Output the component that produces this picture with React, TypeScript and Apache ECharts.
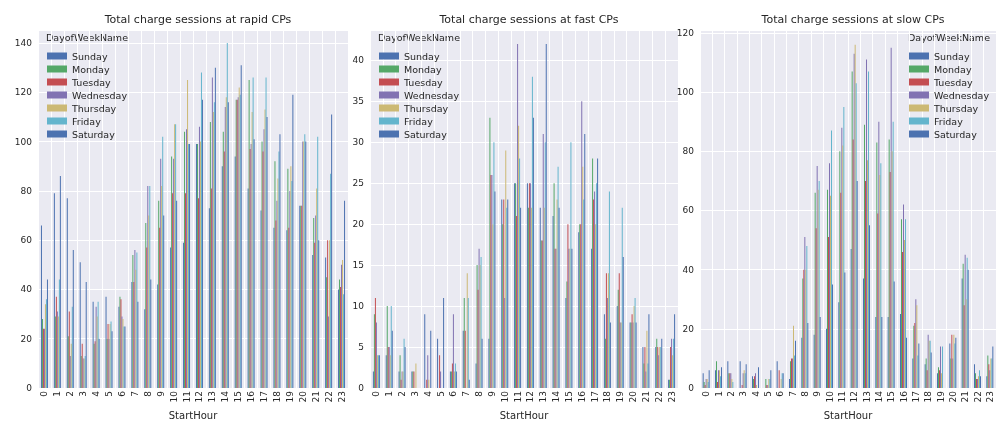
import React, { useEffect, useRef } from "react";
import * as echarts from "echarts";

const hours = Array.from({ length: 24 }, (_, i) => String(i));
const days = ["Sunday", "Monday", "Tuesday", "Wednesday", "Thursday", "Friday", "Saturday"];
const colors = ["#4C72B0", "#55A868", "#C44E52", "#8172B2", "#CCB974", "#64B5CD", "#4C72B0"];

// rows = hours 0..23, columns = Sunday..Saturday
const rapid = [
  [66, 28, 24, 24, 34, 36, 44], [79, 29, 37, 31, 29, 44, 86], [77, 21, 31, 13, 18, 33, 56],
  [51, 13, 18, 12, 12, 13, 43], [35, 18, 19, 33, 29, 35, 20], [37, 20, 26, 20, 26, 27, 23],
  [33, 37, 36, 29, 28, 25, 25], [43, 54, 43, 56, 48, 55, 35], [32, 67, 57, 82, 70, 82, 44],
  [42, 76, 65, 93, 82, 102, 70], [57, 94, 79, 93, 107, 107, 76], [59, 104, 79, 105, 125, 99, 99],
  [99, 99, 77, 106, 100, 128, 117], [73, 108, 81, 126, 112, 116, 130], [90, 104, 96, 114, 118, 140, 116],
  [94, 117, 117, 118, 122, 119, 131], [81, 125, 97, 99, 112, 126, 101], [72, 100, 96, 105, 113, 126, 110],
  [65, 92, 68, 76, 85, 96, 103], [64, 89, 65, 80, 90, 84, 119], [74, 74, 74, 100, 100, 103, 100],
  [54, 69, 59, 70, 81, 102, 60], [53, 45, 60, 29, 60, 87, 111], [40, 44, 41, 50, 52, 38, 76],
];
const fast = [
  [2, 9, 11, 8, 4, 4, 4], [4, 10, 5, 5, 4, 10, 7], [2, 4, 1, 2, 2, 6, 5],
  [2, 2, 2, 0, 3, 0, 0], [9, 0, 1, 4, 1, 0, 7], [6, 0, 4, 2, 0, 0, 11],
  [2, 2, 3, 9, 2, 3, 2], [7, 11, 7, 0, 14, 11, 1], [3, 15, 12, 17, 15, 16, 6],
  [6, 33, 26, 26, 20, 30, 24], [23, 20, 23, 11, 29, 22, 23], [25, 25, 21, 42, 32, 28, 22],
  [25, 22, 25, 25, 22, 38, 33], [22, 18, 18, 31, 22, 30, 42], [21, 25, 17, 17, 23, 27, 22],
  [11, 13, 20, 17, 17, 30, 17], [19, 20, 20, 35, 27, 23, 31], [17, 28, 23, 24, 20, 25, 28],
  [9, 6, 14, 11, 14, 24, 8], [10, 12, 14, 8, 8, 22, 16], [8, 8, 9, 8, 10, 11, 8],
  [5, 3, 5, 2, 7, 3, 9], [5, 6, 5, 4, 5, 5, 6], [1, 1, 5, 6, 4, 6, 9],
];
const slow = [
  [5, 2, 1, 3, 3, 2, 6], [6, 9, 2, 6, 6, 4, 7], [9, 5, 5, 5, 3, 2, 0],
  [9, 0, 1, 5, 6, 5, 8], [4, 3, 4, 5, 1, 0, 7], [0, 3, 1, 1, 3, 3, 6],
  [9, 0, 6, 0, 3, 5, 5], [3, 9, 10, 10, 21, 11, 16], [17, 37, 40, 51, 40, 48, 22],
  [18, 66, 54, 75, 67, 70, 24], [20, 67, 51, 76, 65, 87, 35], [29, 80, 66, 88, 82, 95, 39],
  [47, 107, 84, 113, 116, 103, 70], [37, 89, 70, 111, 77, 107, 55], [24, 83, 59, 90, 72, 76, 24],
  [24, 84, 73, 115, 80, 90, 36], [25, 57, 46, 62, 50, 57, 17], [10, 21, 22, 30, 28, 11, 15],
  [8, 10, 6, 18, 16, 16, 12], [5, 7, 6, 14, 5, 14, 0], [15, 10, 18, 10, 18, 15, 17],
  [37, 42, 28, 45, 30, 44, 40], [8, 5, 3, 3, 4, 6, 4], [4, 11, 8, 6, 10, 10, 14],
];

const panels = [
  { title: "Total charge sessions at rapid CPs", data: rapid, max: 145.3, interval: 20, left: 38, width: 310, legendLeft: 40 },
  { title: "Total charge sessions at fast CPs", data: fast, max: 43.7, interval: 5, left: 370, width: 308, legendLeft: 372 },
  { title: "Total charge sessions at slow CPs", data: slow, max: 121, interval: 20, left: 700, width: 296, legendLeft: 902 },
];

export default function App() {
  const ref = useRef<HTMLDivElement>(null);
  useEffect(() => {
    const chart = echarts.init(ref.current!, undefined, { renderer: "svg" });
    const txt = "#262626";
    const option: any = {
      animation: false,
      textStyle: { fontFamily: "DejaVu Sans" },
      title: panels.map((p) => ({
        text: p.title, left: p.left + p.width / 2, top: 9, textAlign: "center",
        textStyle: { fontSize: 11, fontWeight: "normal", color: txt, fontFamily: "DejaVu Sans" },
      })),
      grid: panels.map((p) => ({ left: p.left, width: p.width, top: 30, bottom: 44, backgroundColor: "#EAEAF2", show: true, borderWidth: 0 })),
      xAxis: panels.map((p, i) => ({
        type: "category", gridIndex: i, data: hours, name: "StartHour", nameLocation: "middle", nameGap: 15,
        nameTextStyle: { fontSize: 10, color: txt },
        axisLine: { show: false }, axisTick: { show: false },
        axisLabel: { rotate: 90, fontSize: 9, color: txt, interval: 0, margin: 3 },
        splitLine: { show: true, interval: 0, lineStyle: { color: "#fff", width: 1 } },
      })),
      yAxis: panels.map((p, i) => ({
        type: "value", gridIndex: i, min: 0, max: p.max, interval: p.interval,
        axisLine: { show: false }, axisTick: { show: false },
        axisLabel: { fontSize: 9, color: txt, showMaxLabel: false, margin: 6 },
        splitLine: { lineStyle: { color: "#fff", width: 1 } },
      })),
      legend: panels.map((p) => ({
        data: days, left: p.legendLeft + 2, top: 46, orient: "vertical", itemWidth: 20, itemHeight: 7, itemGap: 3,
        textStyle: { fontSize: 9.5, color: txt }, icon: "rect", selectedMode: false,
      })),
      graphic: panels.map((p) => ({
        type: "text", left: p.legendLeft + 6, top: 32, style: { text: "DayofWeekName", fontSize: 9.5, fill: txt, fontFamily: "DejaVu Sans" },
      })),
      series: panels.flatMap((p, i) =>
        days.map((d, j) => ({
          name: d, type: "bar", xAxisIndex: i, yAxisIndex: i,
          data: p.data.map((r) => r[j]),
          itemStyle: { color: colors[j] },
          barGap: "0%", barCategoryGap: "50%",
        }))
      ),
    };
    chart.setOption(option);
    return () => chart.dispose();
  }, []);
  return <div ref={ref} style={{ position: "fixed", left: 0, top: 0, width: 1008, height: 432 }} />;
}
